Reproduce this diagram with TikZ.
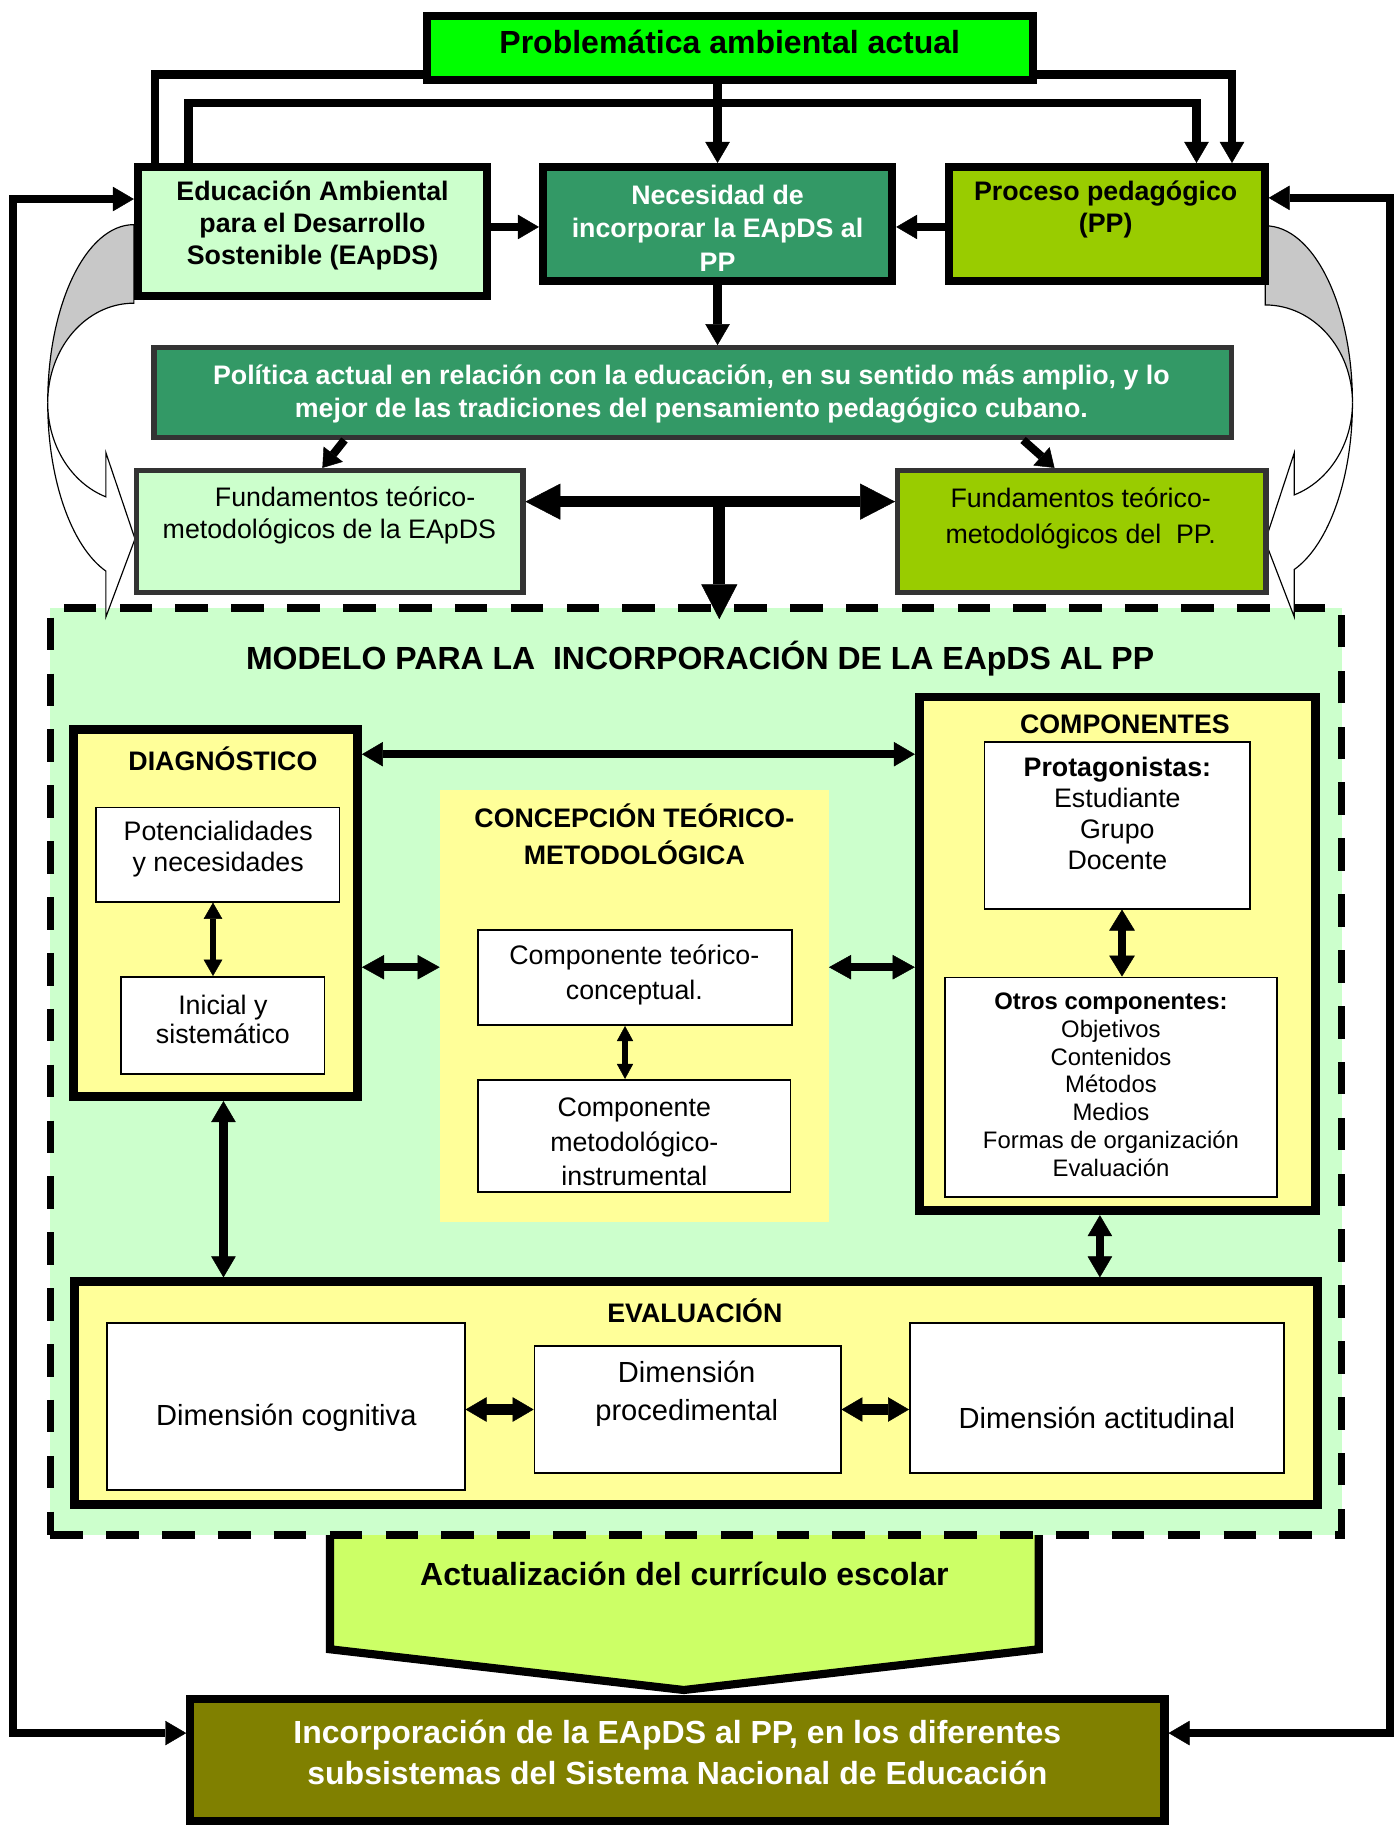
\documentclass[tikz,border=0pt]{standalone}
\usepackage{fontspec}
\setmainfont{Liberation Sans}
\usetikzlibrary{arrows.meta,calc}
\definecolor{cProb}{HTML}{00FF00}
\definecolor{cLight}{HTML}{CCFFCC}
\definecolor{cSea}{HTML}{339966}
\definecolor{cLime}{HTML}{99CC00}
\definecolor{cYel}{HTML}{FFFF99}
\definecolor{cAct}{HTML}{CCFF66}
\definecolor{cOlive}{HTML}{808000}
\definecolor{cDark}{HTML}{333333}
\definecolor{cShade}{HTML}{C8C8C8}
\begin{document}
\begin{tikzpicture}[x=1pt,y=-1pt,
  tipM/.tip={Triangle[length=18pt,width=21pt,line width=0.4pt]},
  tipF/.tip={Triangle[length=30pt,width=31pt,line width=0.4pt]},
  tipD/.tip={Triangle[length=15pt,width=21pt,line width=0.4pt]},
  tipS/.tip={Triangle[length=14pt,width=16pt,line width=0.4pt]},
  tipX/.tip={Triangle[length=13pt,width=14pt,line width=0.4pt]},
  tipP/.tip={Triangle[length=18pt,width=22pt,line width=0.4pt]},
  tipE/.tip={Triangle[length=19pt,width=21pt,line width=0.4pt]},
  tipH/.tip={Triangle[length=18pt,width=21pt,line width=0.4pt]},
  sz/.style 2 args={minimum width=#1pt, minimum height=#2pt},
  tbox/.style={draw=black, line width=7pt, inner sep=0pt},
  gbox/.style={draw=cDark, line width=4.5pt, inner sep=0pt},
  ybox/.style={draw=black, line width=7.5pt, fill=cYel, inner sep=0pt},
  wbox/.style={draw=black, line width=1.5pt, fill=white, inner sep=0pt},
  txt/.style={inner sep=0pt, align=center},
  conn/.style={draw=black, line width=7pt},
  shadeline/.style={draw=black, line width=1pt}
]
\path[use as bounding box, fill=white] (0,0) rectangle (1201,1568);

% Actualizacion (pentagon, behind the model box)
\draw[line width=7pt, fill=cAct, line join=miter]
  (283.5,1300) -- (283.5,1417) -- (587.5,1452) -- (892.5,1417) -- (892.5,1300) -- cycle;

% model dashed box
\node[draw=black, line width=6.5pt, dash pattern=on 28pt off 20pt, fill=cLight, sz={1109.5}{796.5}, inner sep=0pt] (model) at (598,920.5) {};

% curved arrows (left)
\path[shadeline, fill=cShade] (115,193) .. controls (74.1,193) and (41,261.5) .. (41,346)
  .. controls (41,298.8) and (74.1,260.5) .. (115,260.5) -- cycle;
\path[shadeline, fill=white] (41,346) .. controls (41,411.4) and (61.1,469.5) .. (91,490.7)
  -- (91,530) -- (116,463) -- (91,389) -- (91,426.9)
  .. controls (61.1,415) and (41,382.6) .. (41,346) -- cycle;
% curved arrows (right)
\path[shadeline, fill=cShade] (1087,194) .. controls (1128.4,194) and (1162,262) .. (1162,346)
  .. controls (1162,299.6) and (1128.4,262) .. (1087,262) -- cycle;
\path[shadeline, fill=white] (1162,346) .. controls (1162,410.4) and (1141.9,467.9) .. (1112,489.3)
  -- (1112,530) -- (1087,465) -- (1112,389) -- (1112,425.2)
  .. controls (1141.9,413.4) and (1162,381.6) .. (1162,346) -- cycle;

% top boxes
\node[tbox, fill=cProb, sz={521}{55}] (prob) at (627,41) {};
\node[tbox, fill=cLight, sz={300}{111}] (eapds) at (268.5,199) {};
\node[tbox, fill=cSea, sz={300}{98}] (nec) at (616.5,192.5) {};
\node[tbox, fill=cLime, sz={271}{98}] (pp) at (951,192.5) {};
\node[gbox, fill=cSea, sz={925.5}{77}] (pol) at (595,337.25) {};
\node[gbox, fill=cLight, sz={332}{104.5}] (fundA) at (283.25,456.5) {};
\node[gbox, fill=cLime, sz={316.5}{104.5}] (fundP) at (929.5,456.5) {};

% model contents
\node[ybox, sz={244}{315.5}] (diag) at (185.25,784.5) {};
\node[ybox, sz={340.5}{441.5}] (comp) at (960,819.5) {};
\node[ybox, sz={1068.5}{191.5}] (eval) at (598,1197) {};
\node[fill=cYel, inner sep=0pt, sz={334}{371}] (conc) at (545,864.5) {};
\node[wbox, sz={209}{81}] (pot) at (187.25,734.25) {};
\node[wbox, sz={174.8}{83.5}] (ini) at (191.45,881) {};
\node[wbox, sz={269.5}{82}] (ctc) at (545.5,839.75) {};
\node[wbox, sz={268.5}{96.5}] (cmi) at (545,976) {};
\node[wbox, sz={228.5}{143}] (prot) at (960,709.25) {};
\node[wbox, sz={285.5}{188.5}] (otros) at (954.5,934) {};
\node[wbox, sz={307.5}{143.5}] (cog) at (245.5,1208.5) {};
\node[wbox, sz={263}{109}] (proc) at (590.75,1211.25) {};
\node[wbox, sz={321.5}{129}] (act) at (942.5,1201.25) {};

% bottom box
\node[tbox, fill=cOlive, sz={837}{105}] (incorp) at (582,1512) {};

% texts
\node[txt, font=\bfseries\fontsize{27.5}{33}\selectfont] (tprob) at (627,36) {Problemática ambiental actual};
\node[txt, font=\bfseries\fontsize{23}{27.5}\selectfont] (teapds) at (268.5,193.5) {Educación Ambiental\\para el Desarrollo\\Sostenible (EApDS)};
\node[txt, text=white, font=\bfseries\fontsize{23}{29}\selectfont] (tnec) at (616.5,196) {Necesidad de\\incorporar la EApDS al\\PP};
\node[txt, font=\bfseries\fontsize{23}{28}\selectfont] (tpp) at (950,180) {Proceso pedagógico\\(PP)};
\node[txt, text=white, font=\bfseries\fontsize{23}{29}\selectfont] (tpol) at (594,338.5) {Política actual en relación con la educación, en su sentido más amplio, y lo\\mejor de las tradiciones del pensamiento pedagógico cubano.};
\node[txt, font=\fontsize{23}{27}\selectfont] (tfundA) at (283,443) {\hspace*{27pt}Fundamentos teórico-\\metodológicos de la EApDS};
\node[txt, font=\fontsize{23}{31}\selectfont] (tfundP) at (928.5,445.5) {Fundamentos teórico-\\metodológicos del\ \ PP.};
\node[txt, font=\bfseries\fontsize{27.5}{33}\selectfont] (tmodel) at (601.5,566) {MODELO PARA LA\ \ INCORPORACIÓN DE LA EApDS AL PP};
\node[txt, font=\bfseries\fontsize{23}{27.5}\selectfont] (tdiag) at (191.5,652) {DIAGNÓSTICO};
\node[txt, font=\fontsize{23}{27}\selectfont] (tpot) at (187.5,729.5) {Potencialidades\\y necesidades};
\node[txt, font=\fontsize{23}{25}\selectfont] (tini) at (191.5,875.5) {Inicial y\\sistemático};
\node[txt, font=\bfseries\fontsize{23}{32}\selectfont] (tconc) at (545,717) {CONCEPCIÓN TEÓRICO-\\METODOLÓGICA};
\node[txt, font=\fontsize{23}{30}\selectfont] (tctc) at (545,838) {Componente teórico-\\conceptual.};
\node[txt, font=\fontsize{23}{30}\selectfont] (tcmi) at (545,981) {Componente\\metodológico-\\instrumental};
\node[txt, font=\bfseries\fontsize{23}{27.5}\selectfont] (tcomp) at (966.5,622) {COMPONENTES};
\node[txt, font=\fontsize{23}{26.7}\selectfont] (tprot) at (960,699) {\textbf{Protagonistas:}\\Estudiante\\Grupo\\Docente};
\node[txt, font=\fontsize{20.5}{24}\selectfont] (totros) at (954.5,932) {\textbf{Otros componentes:}\\Objetivos\\Contenidos\\Métodos\\Medios\\Formas de organización\\Evaluación};
\node[txt, font=\bfseries\fontsize{23}{27.5}\selectfont] (teval) at (597,1126) {EVALUACIÓN};
\node[txt, font=\fontsize{25}{33}\selectfont] (tcog) at (246,1218) {Dimensión cognitiva};
\node[txt, font=\fontsize{25}{33}\selectfont] (tproc) at (590,1197.5) {Dimensión\\procedimental};
\node[txt, font=\fontsize{25}{33}\selectfont] (tact) at (942.5,1218) {Dimensión actitudinal};
\node[txt, font=\bfseries\fontsize{27.5}{33}\selectfont] (tactu) at (588,1352) {Actualización del currículo escolar};
\node[txt, text=white, font=\bfseries\fontsize{27.5}{35}\selectfont] (tinc) at (582,1505.5) {Incorporación de la EApDS al PP, en los diferentes\\subsistemas del Sistema Nacional de Educación};

% connectors, top
\draw[conn,-{tipM}] (nec.north |- prob.south) -- (nec.north);
\draw[conn,-{tipM}] (eapds.east |- 0,195) -- (nec.west |- 0,195);
\draw[conn,-{tipM}] (pp.west |- 0,195) -- (nec.east |- 0,195);
\draw[conn,-{tipM}] (nec.south) -- (nec.south |- pol.north);
\draw[conn] (prob.west |- 0,64) -| (133,0 |- eapds.north);
\draw[conn,-{tipM}] (prob.east |- 0,64) -| (1058.5,0 |- pp.north);
\draw[conn,-{tipM}] (162,0 |- eapds.north) |- (1028,88.5) -- (1028,0 |- pp.north);
% outer loops
\draw[conn,{tipM}-{tipM}] (eapds.west |- 0,171) -| (11,1489) -- (incorp.west |- 0,1489);
\draw[conn,{tipM}-{tipM}] (pp.east |- 0,170) -| (1194,1489) -- (incorp.east |- 0,1489);
% politica -> fundamentos
\draw[line width=7pt,-{tipD}] (296,0 |- pol.south) -- (277,0 |- fundA.north);
\draw[line width=7pt,-{tipD}] (879,0 |- pol.south) -- (906,0 |- fundP.north);
\draw[line width=10pt,{tipF}-{tipF}] (fundA.east |- 0,431) -- (fundP.west |- 0,431);
\coordinate (mid) at (618,431);
\draw[line width=10pt,-{tipF}] (mid) -- ($(mid |- model.north)+(0,13)$);
% inside model
\draw[conn,{tipM}-{tipM}] (diag.east |- 0,648) -- (comp.west |- 0,648);
\draw[line width=7pt,{tipE}-{tipE}] (diag.east |- 0,831) -- (conc.west |- 0,831);
\draw[line width=7pt,{tipE}-{tipE}] (conc.east |- 0,831) -- (comp.west |- 0,831);
\draw[line width=5pt,{tipS}-{tipS}] (183,0 |- pot.south) -- (183,0 |- ini.north);
\draw[line width=4.5pt,{tipX}-{tipX}] (537,0 |- ctc.south) -- (537,0 |- cmi.north);
\draw[line width=7pt,{tipP}-{tipP}] (964,0 |- prot.south) -- (964,0 |- otros.north);
\draw[conn,{tipM}-{tipM}] (192,0 |- diag.south) -- (192,0 |- eval.north);
\draw[conn,{tipM}-{tipM}] (945,0 |- comp.south) -- (945,0 |- eval.north);
\draw[line width=9pt,{tipH}-{tipH}] (cog.east |- 0,1211) -- (proc.west |- 0,1211);
\draw[line width=9pt,{tipH}-{tipH}] (proc.east |- 0,1211) -- (act.west |- 0,1211);
\end{tikzpicture}
\end{document}
